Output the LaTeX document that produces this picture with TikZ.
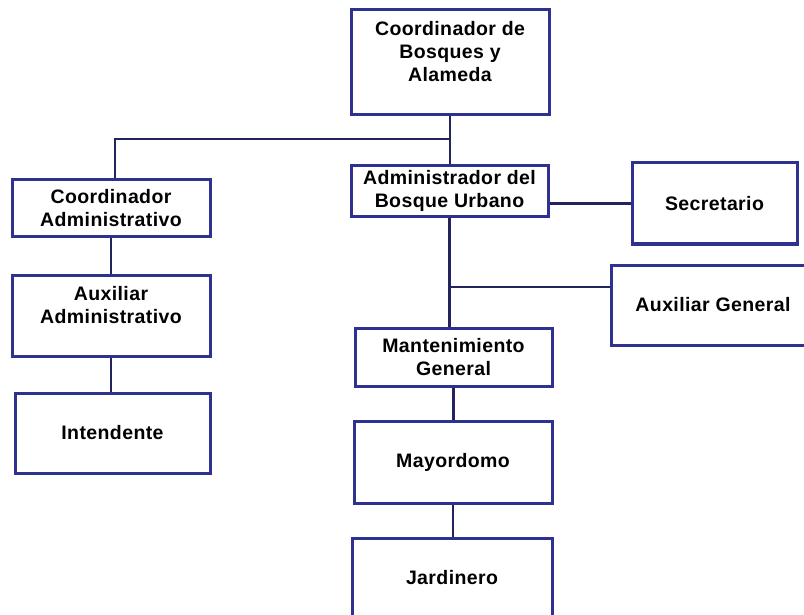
\documentclass[tikz,border=0pt]{standalone}
\usepackage{fontspec}
\setmainfont{Liberation Sans}[LetterSpace=2]
\definecolor{boxc}{HTML}{2E3190}
\definecolor{linec}{HTML}{23235E}
\begin{document}
\begin{tikzpicture}[x=1pt,y=-1pt,
  box/.style={draw=boxc, line width=3pt, fill=white, inner sep=0pt, align=center,
    font=\fontsize{19.5}{23}\selectfont\bfseries, text=black},
  conn/.style={draw=linec, line width=2.2pt}]
\useasboundingbox (0,0) rectangle (804,615);
\clip (0,0) rectangle (804,615);
\coordinate (jt) at (450,139);
\coordinate (jl) at (115,139);
\coordinate (jg) at (449,287);
% boxes
\node[box, minimum width=198, minimum height=105] (top) at (450,62.5) {Coordinador de\\Bosques y\\Alameda\\\mbox{}};
\node[box, minimum width=197, minimum height=51.5] (admin) at (449.5,191) {Administrador del\\Bosque Urbano};
\node[box, minimum width=198, minimum height=57] (coordadm) at (111,208.5) {Coordinador\\Administrativo};
\node[box, minimum width=198, minimum height=81] (auxadm) at (111,316.3) {Auxiliar\\Administrativo\\\mbox{}};
\node[box, minimum width=195, minimum height=80] (intend) at (112.5,433) {Intendente};
\node[box, minimum width=165, minimum height=81] (secr) at (714.5,203.5) {Secretario};
\node[box, minimum width=204, minimum height=80] (auxgen) at (713,305) {Auxiliar General};
\node[box, minimum width=197, minimum height=58] (mant) at (453.5,357) {Mantenimiento\\General};
\node[box, minimum width=198, minimum height=82] (mayor) at (453,462) {Mayordomo};
\node[box, minimum width=200, minimum height=80] (jard) at (452,578) {Jardinero};
% connectors
\draw[conn] (top.south) -- (top.south |- admin.north);
\draw[conn] (jt) -- (jl) -- (jl |- coordadm.north);
\draw[conn] (coordadm.south) -- (auxadm.north);
\draw[conn] (auxadm.south) -- (auxadm.south |- intend.north);
\draw[conn] (secr.west -| admin.east) -- (secr.west);
\draw[conn] (admin.south) -- (admin.south |- mant.north);
\draw[conn] (jg) -- (jg -| auxgen.west);
\draw[conn] (mant.south) -- (mant.south |- mayor.north);
\draw[conn] (mayor.south) -- (mayor.south |- jard.north);
\end{tikzpicture}
\end{document}
